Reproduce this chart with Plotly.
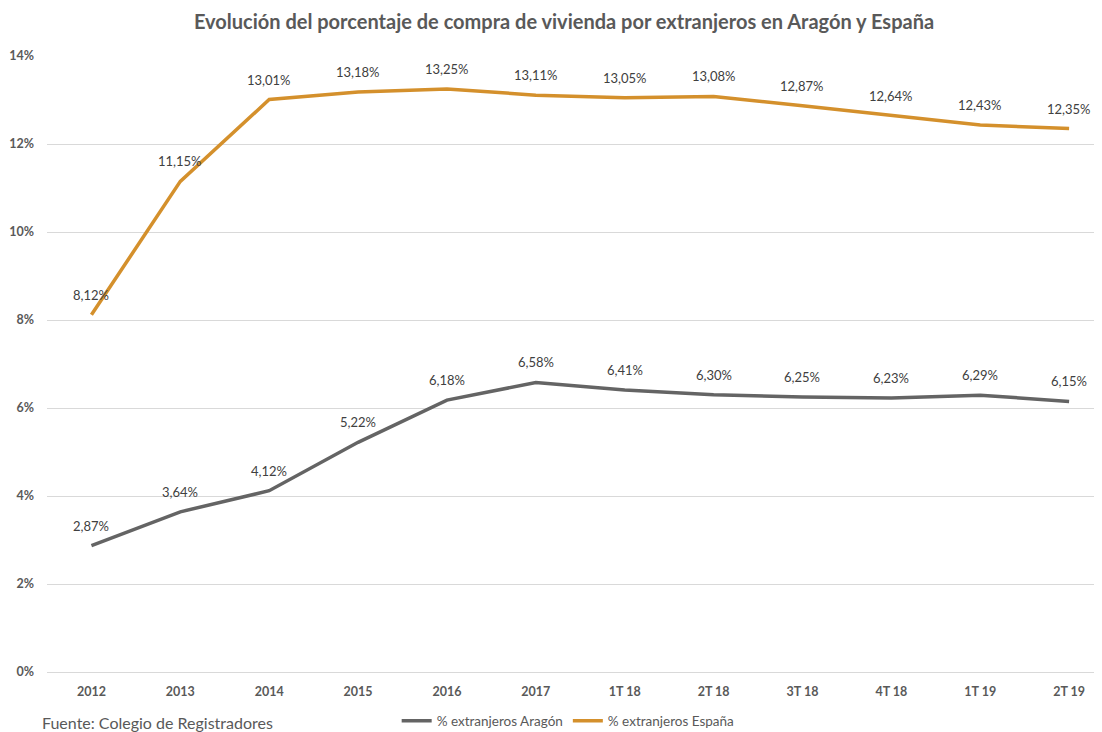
import plotly.graph_objects as go

categories = ["2012", "2013", "2014", "2015", "2016", "2017", "1T 18", "2T 18", "3T 18", "4T 18", "1T 19", "2T 19"]
aragon = [2.87, 3.64, 4.12, 5.22, 6.18, 6.58, 6.41, 6.30, 6.25, 6.23, 6.29, 6.15]
espana = [8.12, 11.15, 13.01, 13.18, 13.25, 13.11, 13.05, 13.08, 12.87, 12.64, 12.43, 12.35]
y_ticks = [0, 2, 4, 6, 8, 10, 12, 14]

GRAY = "#646464"
ORANGE = "#D4902C"
FONT = "Lato"

W, H = 1094, 724
L, T, B = 39, 48, 60
PH = H - T - B

def fmt(v):
    return f"{v:.2f}".replace(".", ",") + "%"

fig = go.Figure()
fig.add_trace(go.Scatter(x=categories, y=aragon, mode="lines", name="% extranjeros Aragón",
                         line=dict(color=GRAY, width=3.5)))
fig.add_trace(go.Scatter(x=categories, y=espana, mode="lines", name="% extranjeros España",
                         line=dict(color=ORANGE, width=3.5)))

annotations = []
for series in (aragon, espana):
    for i, v in enumerate(series):
        annotations.append(dict(x=i, y=v, xref="x", yref="y", text=fmt(v), showarrow=False,
                                yshift=20, font=dict(family=FONT, size=13, color="#404040")))

annotations.append(dict(text="Fuente: Colegio de Registradores", xref="paper", yref="paper",
                        x=-7 / (W - L), y=-50 / PH, xanchor="left", yanchor="middle", showarrow=False,
                        font=dict(family=FONT, size=16, color="#595959")))

fig.update_layout(
    width=W, height=H,
    margin=dict(l=L, r=0, t=T, b=B, autoexpand=False),
    paper_bgcolor="white", plot_bgcolor="white",
    title=dict(text="<b>Evolución del porcentaje de compra de vivienda por extranjeros en Aragón y España</b>",
               x=556 / W, xref="container", xanchor="center", y=1 - 14 / H, yanchor="middle",
               font=dict(family=FONT, size=20, color="#595959")),
    xaxis=dict(type="category", range=[-0.5, 11.37], showgrid=False, showline=False, ticks="",
               tickfont=dict(family=FONT, size=12.5, color="#595959", weight="bold"), ticklabelstandoff=10),
    yaxis=dict(range=[0, 14], tickvals=y_ticks, ticktext=[f"{t}%" for t in y_ticks],
               showgrid=True, gridcolor="#D9D9D9", gridwidth=1, zeroline=True, zerolinecolor="#D9D9D9",
               zerolinewidth=1, showline=False, ticks="",
               tickfont=dict(family=FONT, size=12.5, color="#595959", weight="bold"), ticklabelstandoff=12),
    legend=dict(orientation="h", x=0.494, xanchor="center", y=-49 / PH, yanchor="middle",
                font=dict(family=FONT, size=13.5, color="#595959"), itemwidth=30),
    showlegend=True,
    annotations=annotations,
)

fig.write_html("out.html")
